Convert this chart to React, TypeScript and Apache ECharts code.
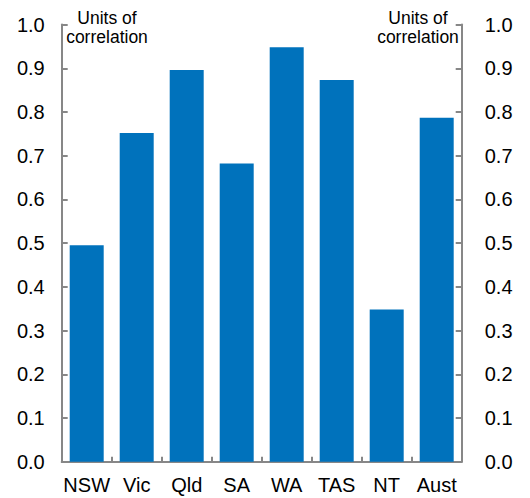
import React, { useEffect, useRef } from "react";
import * as echarts from "echarts";

const categories = ["NSW", "Vic", "Qld", "SA", "WA", "TAS", "NT", "Aust"];
const correlation = [0.495, 0.752, 0.896, 0.682, 0.948, 0.873, 0.348, 0.787];
const unitLabel = "Units of\ncorrelation";

const FONT = "Liberation Sans, Arial, sans-serif";

export default function App() {
  const ref = useRef<HTMLDivElement>(null);
  useEffect(() => {
    if (!ref.current) return;
    const chart = echarts.init(ref.current, undefined, { renderer: "svg" });
    const axisCommon = {
      type: "value" as const,
      min: 0,
      max: 1,
      interval: 0.1,
      axisLine: { show: true, lineStyle: { color: "#878787", width: 2 } },
      axisTick: { show: true, inside: true, length: 6, lineStyle: { color: "#878787", width: 2 } },
      splitLine: { show: false },
    };
    chart.setOption({
      animation: false,
      grid: { left: 61.7, right: 68.3, top: 24.6, bottom: 36.3, containLabel: false },
      xAxis: {
        type: "category",
        data: categories,
        axisLine: { show: true, lineStyle: { color: "#878787", width: 2 } },
        axisTick: { show: true, inside: true, length: 5, lineStyle: { color: "#878787", width: 2 } },
        axisLabel: { color: "#000", fontSize: 20, fontFamily: FONT, margin: 13, interval: 0 },
      },
      yAxis: [
        {
          ...axisCommon,
          position: "left",
          axisLabel: {
            color: "#000",
            fontSize: 20,
            fontFamily: FONT,
            margin: 17,
            formatter: (v: number) => v.toFixed(1),
          },
        },
        {
          ...axisCommon,
          position: "right",
          axisLabel: {
            color: "#000",
            fontSize: 20,
            fontFamily: FONT,
            margin: 23,
            formatter: (v: number) => v.toFixed(1),
          },
        },
      ],
      graphic: [
        {
          type: "text",
          x: 107,
          y: 8,
          style: {
            text: unitLabel,
            fontSize: 17.5,
            fontFamily: FONT,
            fill: "#000",
            align: "center",
            verticalAlign: "top",
            lineHeight: 19,
          },
        },
        {
          type: "text",
          x: 418,
          y: 8,
          style: {
            text: unitLabel,
            fontSize: 17.5,
            fontFamily: FONT,
            fill: "#000",
            align: "center",
            verticalAlign: "top",
            lineHeight: 19,
          },
        },
      ],
      series: [
        {
          type: "bar",
          data: correlation,
          yAxisIndex: 0,
          barWidth: "68%",
          itemStyle: { color: "#0072BC" },
        },
      ],
    });
    return () => chart.dispose();
  }, []);
  return (
    <div
      ref={ref}
      style={{ position: "fixed", left: 0, top: 0, width: 530, height: 498, background: "#fff" }}
    />
  );
}
